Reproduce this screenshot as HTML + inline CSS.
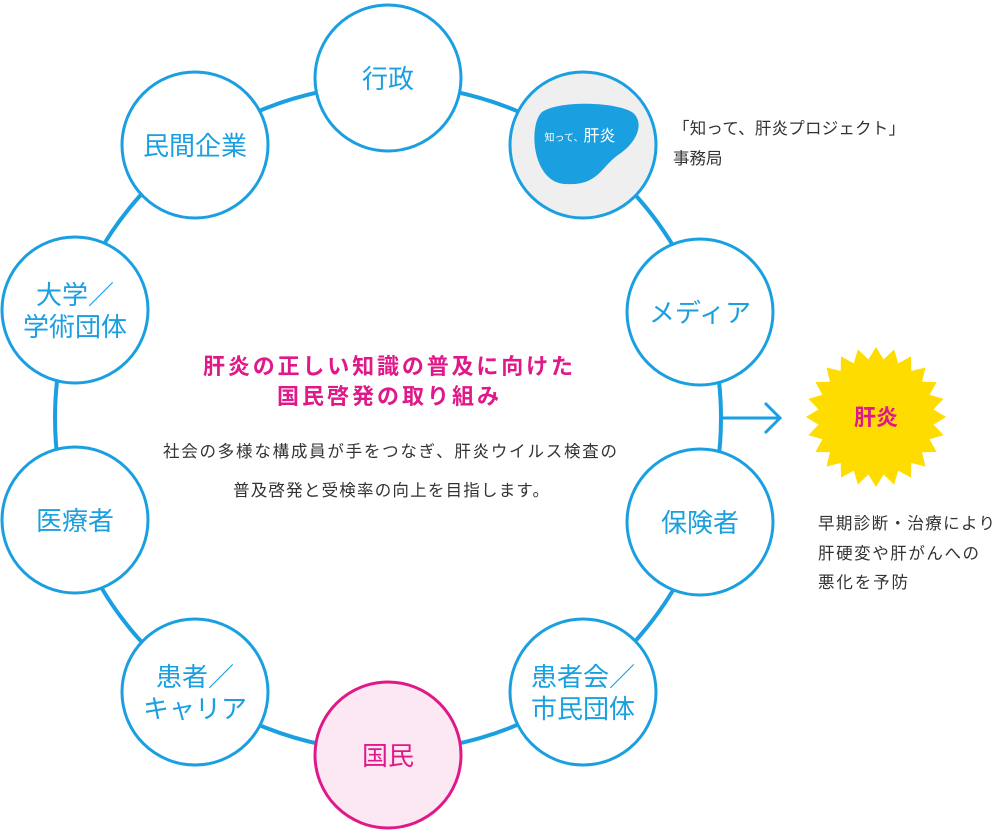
<!DOCTYPE html>
<html><head><meta charset="utf-8"><style>
body{margin:0;background:#fff}
svg text{font-family:"Liberation Sans","Noto Sans CJK JP",sans-serif}
</style></head><body>
<svg width="1000" height="834" viewBox="0 0 1000 834" xmlns="http://www.w3.org/2000/svg">
<circle cx="388" cy="418" r="333" fill="none" stroke="#1a9fe0" stroke-width="4"/>
<g stroke="#1a9fe0" stroke-width="3" fill="#fff">
<circle cx="388" cy="78" r="73"/>
<circle cx="583" cy="145" r="73" fill="#efefef"/>
<circle cx="195" cy="145" r="73"/>
<circle cx="75" cy="310" r="73"/>
<circle cx="700" cy="312" r="73"/>
<circle cx="75" cy="520" r="73"/>
<circle cx="700" cy="522" r="73"/>
<circle cx="195" cy="692" r="73"/>
<circle cx="583" cy="692" r="73"/>
<circle cx="388" cy="755" r="73" fill="#fce8f3" stroke="#e0198a"/>
</g>
<path d="M542,112 C560,100 615,102 632,112 C645,122 638,142 618,155 C600,168 598,186 565,184 C532,182 528,125 542,112Z" fill="#1a9fe0"/>
<text x="580" y="141" font-size="10" fill="#fff" text-anchor="middle">知って、<tspan font-size="16">肝炎</tspan></text>
<g font-size="26" fill="#1a9fe0" text-anchor="middle">
<text x="388" y="88">行政</text>
<text x="195" y="155">民間企業</text>
<text x="75" y="304">大学／</text>
<text x="75" y="336">学術団体</text>
<text x="700" y="322">メディア</text>
<text x="75" y="530">医療者</text>
<text x="700" y="532">保険者</text>
<text x="195" y="686">患者／</text>
<text x="195" y="718">キャリア</text>
<text x="583" y="686">患者会／</text>
<text x="583" y="718">市民団体</text>
<text x="388" y="765" fill="#e0198a">国民</text>
</g>
<g font-size="22" font-weight="bold" fill="#e0198a">
<text x="203" y="374" textLength="370" lengthAdjust="spacing">肝炎の正しい知識の普及に向けた</text>
<text x="277" y="404" textLength="222" lengthAdjust="spacing">国民啓発の取り組み</text>
</g>
<g font-size="16.5" fill="#333">
<text x="163" y="457" textLength="454" lengthAdjust="spacing">社会の多様な構成員が手をつなぎ、肝炎ウイルス検査の</text>
<text x="233" y="496" textLength="316" lengthAdjust="spacing">普及啓発と受検率の向上を目指します。</text>
</g>
<g font-size="16.5" fill="#333">
<text x="673" y="134" textLength="232" lengthAdjust="spacing">「知って、肝炎プロジェクト」</text>
<text x="673" y="164">事務局</text>
<text x="818" y="529" textLength="177" lengthAdjust="spacing">早期診断・治療により</text>
<text x="818" y="559" textLength="161" lengthAdjust="spacing">肝硬変や肝がんへの</text>
<text x="818" y="588" textLength="90" lengthAdjust="spacing">悪化を予防</text>
</g>
<path d="M722,418 H779 M765,403 L780,418 L765,433" fill="none" stroke="#1a9fe0" stroke-width="3"/>
<polygon id="star" fill="#ffdc00"/>
<text x="876" y="425" font-size="22" font-weight="bold" fill="#e0198a" text-anchor="middle">肝炎</text>
</svg>
<script>
var p=[],n=24,cx=876,cy=417;
for(var i=0;i<2*n;i++){var r=i%2?58:70,a=Math.PI*i/n-Math.PI/2;p.push((cx+r*Math.cos(a)).toFixed(1)+','+(cy+r*Math.sin(a)).toFixed(1));}
document.getElementById('star').setAttribute('points',p.join(' '));
</script>
</body></html>
